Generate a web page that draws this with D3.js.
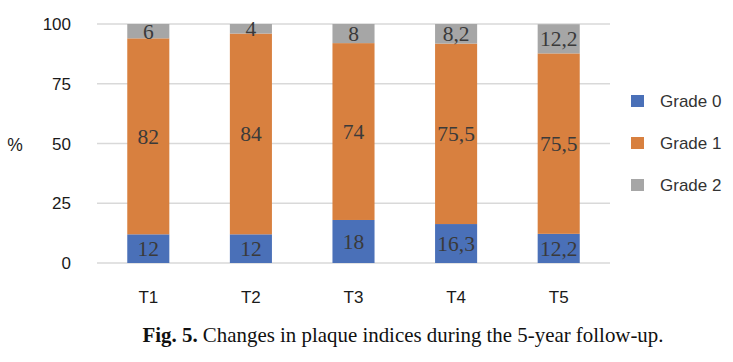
<!DOCTYPE html>
<html><head><meta charset="utf-8">
<script src="https://cdn.jsdelivr.net/npm/d3@7"></script>
<style>body{margin:0;background:#fff}svg{display:block}</style>
</head><body>
<svg id="c" width="733" height="362"></svg>
<script>
const categories = ["T1","T2","T3","T4","T5"];
const seriesNames = ["Grade 0","Grade 1","Grade 2"];
const grade0 = [12, 12, 18, 16.3, 12.2];
const grade1 = [82, 84, 74, 75.5, 75.5];
const grade2 = [6, 4, 8, 8.2, 12.2];
const labels0 = ["12","12","18","16,3","12,2"];
const labels1 = ["82","84","74","75,5","75,5"];
const labels2 = ["6","4","8","8,2","12,2"];
const yTicks = [0,25,50,75,100];
const colors = ["#4a70b8","#d8803f","#a6a6a6"];

const svg = d3.select("#c");
const x = d3.scaleBand().domain(categories).range([97,610]).paddingInner(0.59).paddingOuter(0.295);
const y = d3.scaleLinear().domain([0,100]).range([263,24]);

const rows = categories.map((c,i)=>({cat:c, "Grade 0":grade0[i], "Grade 1":grade1[i], "Grade 2":grade2[i]}));
const stack = d3.stack().keys(seriesNames)(rows);
const labelSets = [labels0, labels1, labels2];

// gridlines
svg.append("g").selectAll("line").data(yTicks).join("line")
  .attr("x1",97).attr("x2",610).attr("y1",d=>y(d)).attr("y2",d=>y(d))
  .attr("stroke","#d9d9d9").attr("stroke-width",1.5);

// y tick labels
svg.append("g").selectAll("text").data(yTicks).join("text")
  .attr("x",71).attr("y",d=>y(d)).attr("dy","0.36em").attr("text-anchor","end")
  .attr("font-family","Liberation Sans, Arial, sans-serif").attr("font-size",17).attr("fill","#1a1a1a")
  .text(d=>d);
svg.append("text").attr("x",15).attr("y",y(50)+1).attr("dy","0.36em").attr("text-anchor","middle")
  .attr("font-family","Liberation Sans, Arial, sans-serif").attr("font-size",17.5).attr("fill","#1a1a1a").text("%");

// bars
stack.forEach((s,si)=>{
  const g = svg.append("g");
  g.selectAll("rect").data(s).join("rect")
    .attr("x",d=>x(d.data.cat)).attr("width",x.bandwidth())
    .attr("y",d=>y(d[1])).attr("height",d=>y(d[0])-y(d[1]))
    .attr("fill",colors[si]);
  g.selectAll("text").data(s).join("text")
    .attr("x",d=>x(d.data.cat)+x.bandwidth()/2)
    .attr("y",d=>(y(d[0])+y(d[1]))/2).attr("dy","0.35em")
    .attr("text-anchor","middle")
    .attr("font-family","Liberation Serif, Times New Roman, serif").attr("font-size",21.5)
    .attr("fill","#3a3a3a")
    .text((d,i)=>labelSets[si][i]);
});

// x labels
svg.append("g").selectAll("text").data(categories).join("text")
  .attr("x",d=>x(d)+x.bandwidth()/2).attr("y",297).attr("dy","0.36em").attr("text-anchor","middle")
  .attr("font-family","Liberation Sans, Arial, sans-serif").attr("font-size",17).attr("fill","#1a1a1a")
  .text(d=>d);

// legend
const lg = svg.append("g").selectAll("g").data(seriesNames).join("g")
  .attr("transform",(d,i)=>`translate(631,${101+i*42})`);
lg.append("rect").attr("x",0).attr("y",-6).attr("width",13).attr("height",12).attr("fill",(d,i)=>colors[i]);
lg.append("text").attr("x",29).attr("y",0).attr("dy","0.36em")
  .attr("font-family","Liberation Sans, Arial, sans-serif").attr("font-size",17).attr("fill","#333")
  .text(d=>d);

// caption
const cap = svg.append("text").attr("x",403).attr("y",342).attr("text-anchor","middle")
  .attr("font-family","Liberation Serif, Times New Roman, serif").attr("font-size",20.9).attr("fill","#111");
cap.append("tspan").attr("font-weight","bold").text("Fig. 5.");
cap.append("tspan").text(" Changes in plaque indices during the 5-year follow-up.");
</script>
</body></html>
